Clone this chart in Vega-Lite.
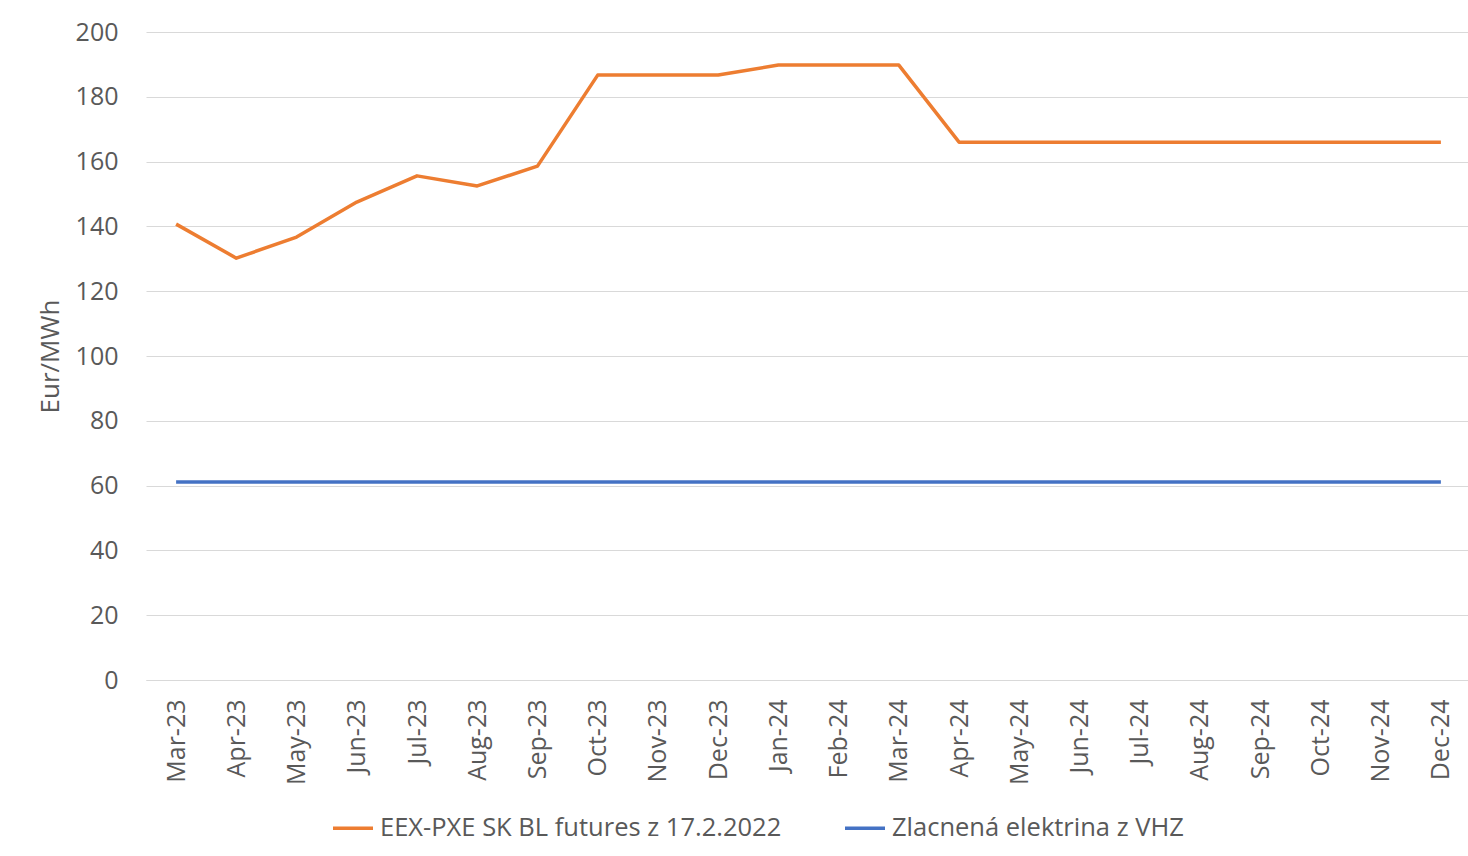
{
  "$schema": "https://vega.github.io/schema/vega-lite/v6.json",
  "autosize": "none",
  "width": 1325,
  "height": 648,
  "padding": {"left": 146, "top": 32, "right": 0, "bottom": 176},
  "background": "white",
  "config": {
    "view": {"stroke": null},
    "font": "Open Sans"
  },
  "data": {
    "values": [
      {"month": "Mar-23", "series": "EEX-PXE SK BL futures z 17.2.2022", "value": 140.7},
      {"month": "Apr-23", "series": "EEX-PXE SK BL futures z 17.2.2022", "value": 130.2},
      {"month": "May-23", "series": "EEX-PXE SK BL futures z 17.2.2022", "value": 136.7},
      {"month": "Jun-23", "series": "EEX-PXE SK BL futures z 17.2.2022", "value": 147.5},
      {"month": "Jul-23", "series": "EEX-PXE SK BL futures z 17.2.2022", "value": 155.6},
      {"month": "Aug-23", "series": "EEX-PXE SK BL futures z 17.2.2022", "value": 152.5},
      {"month": "Sep-23", "series": "EEX-PXE SK BL futures z 17.2.2022", "value": 158.6},
      {"month": "Oct-23", "series": "EEX-PXE SK BL futures z 17.2.2022", "value": 186.7},
      {"month": "Nov-23", "series": "EEX-PXE SK BL futures z 17.2.2022", "value": 186.7},
      {"month": "Dec-23", "series": "EEX-PXE SK BL futures z 17.2.2022", "value": 186.7},
      {"month": "Jan-24", "series": "EEX-PXE SK BL futures z 17.2.2022", "value": 189.8},
      {"month": "Feb-24", "series": "EEX-PXE SK BL futures z 17.2.2022", "value": 189.8},
      {"month": "Mar-24", "series": "EEX-PXE SK BL futures z 17.2.2022", "value": 189.8},
      {"month": "Apr-24", "series": "EEX-PXE SK BL futures z 17.2.2022", "value": 166.0},
      {"month": "May-24", "series": "EEX-PXE SK BL futures z 17.2.2022", "value": 166.0},
      {"month": "Jun-24", "series": "EEX-PXE SK BL futures z 17.2.2022", "value": 166.0},
      {"month": "Jul-24", "series": "EEX-PXE SK BL futures z 17.2.2022", "value": 166.0},
      {"month": "Aug-24", "series": "EEX-PXE SK BL futures z 17.2.2022", "value": 166.0},
      {"month": "Sep-24", "series": "EEX-PXE SK BL futures z 17.2.2022", "value": 166.0},
      {"month": "Oct-24", "series": "EEX-PXE SK BL futures z 17.2.2022", "value": 166.0},
      {"month": "Nov-24", "series": "EEX-PXE SK BL futures z 17.2.2022", "value": 166.0},
      {"month": "Dec-24", "series": "EEX-PXE SK BL futures z 17.2.2022", "value": 166.0},
      {"month": "Mar-23", "series": "Zlacnená elektrina z VHZ", "value": 61.1},
      {"month": "Apr-23", "series": "Zlacnená elektrina z VHZ", "value": 61.1},
      {"month": "May-23", "series": "Zlacnená elektrina z VHZ", "value": 61.1},
      {"month": "Jun-23", "series": "Zlacnená elektrina z VHZ", "value": 61.1},
      {"month": "Jul-23", "series": "Zlacnená elektrina z VHZ", "value": 61.1},
      {"month": "Aug-23", "series": "Zlacnená elektrina z VHZ", "value": 61.1},
      {"month": "Sep-23", "series": "Zlacnená elektrina z VHZ", "value": 61.1},
      {"month": "Oct-23", "series": "Zlacnená elektrina z VHZ", "value": 61.1},
      {"month": "Nov-23", "series": "Zlacnená elektrina z VHZ", "value": 61.1},
      {"month": "Dec-23", "series": "Zlacnená elektrina z VHZ", "value": 61.1},
      {"month": "Jan-24", "series": "Zlacnená elektrina z VHZ", "value": 61.1},
      {"month": "Feb-24", "series": "Zlacnená elektrina z VHZ", "value": 61.1},
      {"month": "Mar-24", "series": "Zlacnená elektrina z VHZ", "value": 61.1},
      {"month": "Apr-24", "series": "Zlacnená elektrina z VHZ", "value": 61.1},
      {"month": "May-24", "series": "Zlacnená elektrina z VHZ", "value": 61.1},
      {"month": "Jun-24", "series": "Zlacnená elektrina z VHZ", "value": 61.1},
      {"month": "Jul-24", "series": "Zlacnená elektrina z VHZ", "value": 61.1},
      {"month": "Aug-24", "series": "Zlacnená elektrina z VHZ", "value": 61.1},
      {"month": "Sep-24", "series": "Zlacnená elektrina z VHZ", "value": 61.1},
      {"month": "Oct-24", "series": "Zlacnená elektrina z VHZ", "value": 61.1},
      {"month": "Nov-24", "series": "Zlacnená elektrina z VHZ", "value": 61.1},
      {"month": "Dec-24", "series": "Zlacnená elektrina z VHZ", "value": 61.1}
    ]
  },
  "mark": {"type": "line", "strokeWidth": 3.5, "strokeJoin": "round"},
  "encoding": {
    "x": {
      "field": "month",
      "type": "nominal",
      "sort": null,
      "scale": {"type": "point", "padding": 0.5},
      "axis": {
        "title": null,
        "labelAngle": -90,
        "labelAlign": "right",
        "labelBaseline": "middle",
        "labelFontSize": 25,
        "labelColor": "#595959",
        "labelPadding": 19,
        "ticks": false,
        "domainColor": "#d9d9d9",
        "domainWidth": 1,
        "grid": false
      }
    },
    "y": {
      "field": "value",
      "type": "quantitative",
      "scale": {"domain": [0, 200], "nice": false},
      "axis": {
        "title": "Eur/MWh",
        "titleFontSize": 26,
        "titleFontWeight": "normal",
        "titleColor": "#595959",
        "titlePadding": 12,
        "values": [0, 20, 40, 60, 80, 100, 120, 140, 160, 180, 200],
        "labelFontSize": 25,
        "labelColor": "#595959",
        "labelPadding": 28,
        "ticks": false,
        "domain": false,
        "gridColor": "#d9d9d9",
        "gridWidth": 1
      }
    },
    "color": {
      "field": "series",
      "type": "nominal",
      "scale": {
        "domain": ["EEX-PXE SK BL futures z 17.2.2022", "Zlacnená elektrina z VHZ"],
        "range": ["#ED7D31", "#4472C4"]
      },
      "legend": {
        "title": null,
        "orient": "none",
        "direction": "horizontal",
        "legendX": 185,
        "legendY": 774,
        "symbolType": "stroke",
        "symbolStrokeWidth": 3.5,
        "symbolSize": 1600,
        "labelFontSize": 25.5,
        "labelColor": "#595959",
        "labelOffset": 5,
        "labelLimit": 800,
        "columnPadding": 56
      }
    }
  }
}
